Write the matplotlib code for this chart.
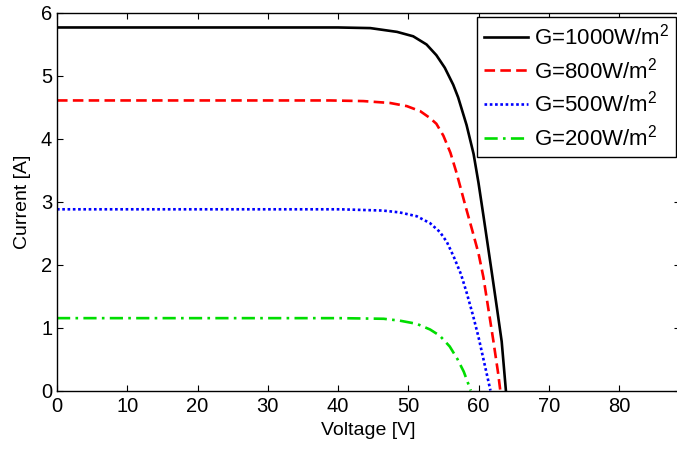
import matplotlib
matplotlib.use("Agg")
import matplotlib.pyplot as plt

plt.rcParams["font.family"] = ["Liberation Sans", "DejaVu Sans"]
plt.rcParams["mathtext.fontset"] = "custom"
plt.rcParams["mathtext.rm"] = "Liberation Sans"

# I-V curves (voltage V, current A)
v_1000 = [0, 10, 20, 30, 40, 44.6, 48.4, 50.7, 52.6, 54.0, 55.2, 56.4, 57.1, 58.3, 59.3,
          60.0, 60.7, 61.4, 61.9, 62.6, 63.3, 63.9]
i_1000 = [5.77, 5.77, 5.77, 5.77, 5.77, 5.76, 5.70, 5.63, 5.50, 5.33, 5.13, 4.86, 4.66, 4.22, 3.76,
          3.30, 2.78, 2.25, 1.87, 1.33, 0.78, 0.0]

v_800 = [0, 10, 20, 30, 38.9, 43.6, 47.4, 49.8, 51.7, 53.1, 54.0, 55.0, 56.0, 56.9, 58.1,
         59.1, 60.0, 60.7, 61.4, 62.1, 62.8, 63.1]
i_800 = [4.61, 4.61, 4.61, 4.61, 4.61, 4.60, 4.57, 4.52, 4.44, 4.33, 4.24, 4.05, 3.78, 3.45, 2.95,
         2.55, 2.18, 1.80, 1.30, 0.80, 0.27, 0.0]

v_500 = [0, 10, 20, 30, 40.3, 46.4, 48.8, 51.2, 53.1, 54.5, 55.5, 56.5, 57.5, 58.3, 59.2,
         60.0, 60.7, 61.2, 61.7]
i_500 = [2.88, 2.88, 2.88, 2.88, 2.88, 2.86, 2.83, 2.77, 2.66, 2.52, 2.36, 2.12, 1.85, 1.56, 1.20,
         0.85, 0.50, 0.25, 0.0]

v_200 = [0, 10, 20, 30, 40.3, 46.5, 48.8, 51.2, 53.1, 54.5, 55.9, 57.0, 57.9, 58.9]
i_200 = [1.15, 1.15, 1.15, 1.15, 1.15, 1.14, 1.11, 1.06, 0.97, 0.87, 0.70, 0.50, 0.30, 0.0]

labels = ["G=1000W/m$^2$", "G=800W/m$^2$", "G=500W/m$^2$", "G=200W/m$^2$"]

fig = plt.figure(figsize=(6.77, 4.49), dpi=100)
ax = fig.add_axes([57/677, 1 - 390.5/449, (680 - 57)/677, (390.5 - 13)/449])

ax.plot(v_1000, i_1000, color="black", lw=1.9, ls="-", label=labels[0])
ax.plot(v_800, i_800, color="#ff0000", lw=1.9, ls=(0, (4, 2)), label=labels[1])
ax.plot(v_500, i_500, color="#0000ff", lw=1.9, ls=(0, (1, 1)), label=labels[2])
ax.plot(v_200, i_200, color="#00dd00", lw=1.9, ls=(0, (5, 2, 1, 2)), label=labels[3])

ax.set_xlim(0, (680 - 57) / 7.025)
ax.set_ylim(0, 6)
ax.set_xticks(range(0, 81, 10))
ax.set_yticks(range(0, 7))
ax.tick_params(direction="in", top=True, right=True, length=4, labelsize=14.5, width=0.8)
ax.tick_params(axis="x", pad=5)
for s in ax.spines.values():
    s.set_linewidth(1.0)

ax.set_xlabel("Voltage [V]", fontsize=14, labelpad=4)
ax.set_ylabel("Current [A]", fontsize=14, labelpad=7)

leg = ax.legend(loc="upper left", bbox_to_anchor=(477/677, 1 - 17/449),
                bbox_transform=fig.transFigure, fontsize=16, fancybox=False,
                edgecolor="black", framealpha=1, handlelength=2.0,
                borderpad=0.3, labelspacing=0.35, handletextpad=0.25, borderaxespad=0)
leg.get_frame().set_linewidth(1.0)

fig.savefig("out.png", dpi=100)
